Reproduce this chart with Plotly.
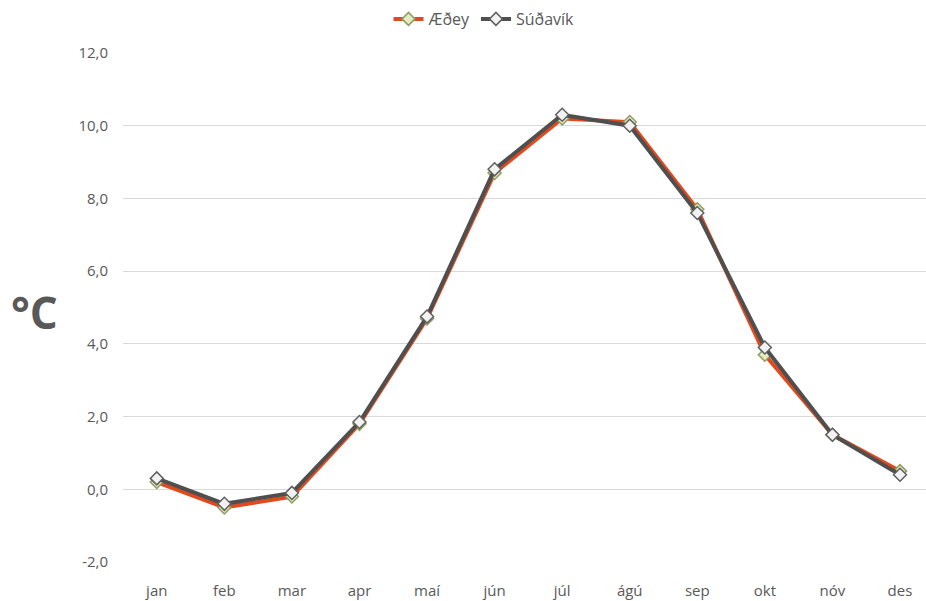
import plotly.graph_objects as go

months = ["jan", "feb", "mar", "apr", "maí", "jún", "júl", "ágú", "sep", "okt", "nóv", "des"]
aedey = [0.2, -0.5, -0.2, 1.8, 4.7, 8.7, 10.2, 10.1, 7.7, 3.7, 1.5, 0.5]
sudavik = [0.3, -0.4, -0.1, 1.85, 4.75, 8.8, 10.3, 10.0, 7.6, 3.9, 1.5, 0.4]
y_ticks = [-2, 0, 2, 4, 6, 8, 10, 12]
y_labels = ["-2,0", "0,0", "2,0", "4,0", "6,0", "8,0", "10,0", "12,0"]

fig = go.Figure()
fig.add_trace(go.Scatter(
    x=months, y=aedey, name="Æðey", mode="lines+markers",
    line=dict(color="#E2491D", width=4),
    marker=dict(symbol="diamond", size=10, color="#E3EBBF",
                line=dict(color="#8F9C62", width=1.5)),
))
fig.add_trace(go.Scatter(
    x=months, y=sudavik, name="Súðavík", mode="lines+markers",
    line=dict(color="#4F4F4F", width=4),
    marker=dict(symbol="diamond", size=10, color="#F2F2F2",
                line=dict(color="#5F5F5F", width=1.5)),
))

fig.update_layout(
    width=926, height=601,
    margin=dict(l=123, r=0, t=53, b=39, autoexpand=False),
    paper_bgcolor="white", plot_bgcolor="white",
    font=dict(family="Open Sans, sans-serif", size=15, color="#595959"),
    showlegend=True,
    legend=dict(orientation="h", x=(484 - 123) / 803, xanchor="center",
                yref="paper", y=1.0 + (53 - 36) / 509, yanchor="bottom",
                font=dict(size=16, color="#595959"),
                itemwidth=30, traceorder="normal"),
    annotations=[dict(text="<b>°C</b>", xref="x domain", yref="y domain",
                      x=-(123 - 34) / 803, y=(562 - 312) / 509,
                      xanchor="center", yanchor="middle",
                      showarrow=False, font=dict(size=44, color="#595959"))],
)

fig.update_xaxes(
    type="category", range=[-0.5, 11.385], showgrid=False, zeroline=False,
    showline=False, ticks="", ticklabelstandoff=18, automargin=False,
    tickfont=dict(size=15, color="#595959"),
)
fig.update_yaxes(
    range=[-2, 12], tickvals=y_ticks, ticktext=y_labels,
    showgrid=True, gridcolor="#D9D9D9", gridwidth=1, zeroline=False,
    showline=False, ticks="", ticklabelstandoff=14, automargin=False,
    tickfont=dict(size=15, color="#595959"),
)

fig.write_html("out.html", config={"displayModeBar": False},
               post_script="document.body.style.margin='0';document.body.style.overflow='hidden';")
